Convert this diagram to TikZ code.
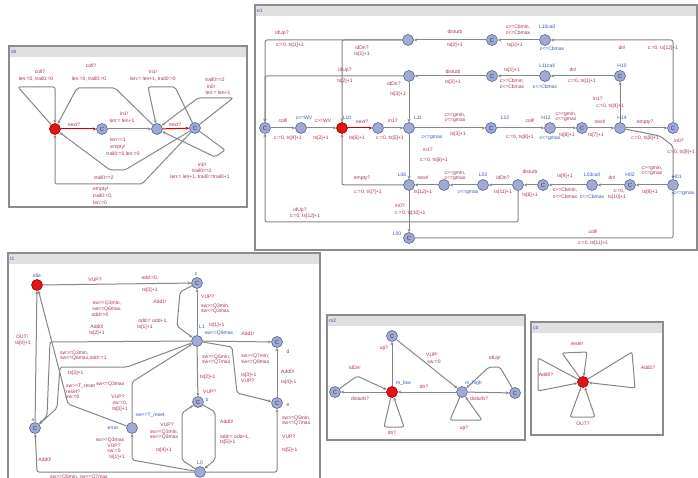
\documentclass[tikz,border=0pt]{standalone}
\usepackage{fontspec}
\setmainfont{Liberation Sans}
\usetikzlibrary{arrows.meta}
\definecolor{labcol}{RGB}{168,48,88}
\definecolor{namecol}{RGB}{50,90,180}
\definecolor{edgecol}{RGB}{135,135,135}
\definecolor{locfill}{RGB}{160,170,212}
\definecolor{locline}{RGB}{90,100,145}
\definecolor{ctext}{RGB}{50,60,110}
\definecolor{initfill}{RGB}{228,20,20}
\definecolor{framecol}{RGB}{140,140,140}
\definecolor{barcol}{RGB}{224,224,224}
\newcounter{lbn}
\newcommand\lb[3][]{\stepcounter{lbn}\node[lab,#1] (lb\arabic{lbn}) at (#2) {#3};}
% template frame: x1, y1, x2, y2, name
\newcommand\panel[5]{%
  \fill[white] (#1,#2) rectangle (#3,#4);
  \fill[barcol] (#1,#2) rectangle (#3,#2+11);
  \draw[framecol, line width=1.2pt] (#1,#2) rectangle (#3,#4);
  \node[nm, anchor=west] (title#5) at (#1+2,#2+5.5) {#5};
}
\tikzset{
  lab/.style={text=labcol, font=\fontsize{5}{5.5}\selectfont, inner sep=0pt, align=center},
  nm/.style={lab, text=namecol},
  loc/.style={circle, minimum size=11pt, inner sep=0pt, fill=locfill, draw=locline,
    line width=0.6pt, font=\fontsize{6}{6}\selectfont, text=ctext},
  com/.style={loc},
  initloc/.style={loc, fill=initfill, draw=red!60!black},
  tr/.style={draw=edgecol, line width=1pt, rounded corners=2pt,
    -{Stealth[length=3.4pt,width=3pt]}},
  trred/.style={tr, draw=red!80!black},
}
\begin{document}
\begin{tikzpicture}[x=1pt,y=-1pt]
\useasboundingbox (0,0) rectangle (698,478);
\fill[white] (0,0) rectangle (698,478);

% ================= sb =================
\panel{9}{46}{247}{207}{sb}
\node[initloc] (s0) at (55,129) {};
\node[com] (s1) at (102,129) {C};
\node[loc] (s2) at (157,129) {};
\node[com] (s3) at (195,128) {C};
\draw[tr] (s0) -- (18,87) -- (55,87) -- (s0);
\draw[tr] (s2) -- (115,88) -- (77,88) -- (s0);
\draw[trred] (s0) -- (s1);
\draw[tr] (s1) -- (s2);
\draw[trred] (s2) -- (s3);
\draw[tr] (s3) -- (175,87) -- (148,87) -- (s2);
\draw[tr] (s3) -- (233,98) -- (198,98) -- (s2);
\draw[tr] (s3) -- (225,150) -- (215,157) -- (s2);
\draw[tr] (s3) -- (125,170) -- (110,170) -- (s0);
\draw[tr] (s3) -- (142,184) -- (55,184) -- (s0);
\lb{40,72}{coll?}
\lb{36,79}{len:=0, trail0:=0}
\lb{91,66}{coll?}
\lb{89,79}{len:=0, trail0:=0}
\lb{74,125}{next?}
\lb{124,114}{in1!}
\lb{122,121}{len:= len+1}
\lb{153,72}{in1!}
\lb{153,79}{len:= len+1, trail0:=0}
\lb{175,125}{next?}
\lb{215,80}{trail0==2}
\lb{211,87}{in0!}
\lb{218,93}{len:= len+1}
\lb{202,165}{in0!}
\lb{202,171}{trail0==2}
\lb{200,177}{len:= len+1, trail0:=trail0+1}
\lb{118,140}{len==1}
\lb{118,147}{empty!}
\lb{123,154}{trail0:=0,len:=0}
\lb{104,178}{trail0==2}
\lb[anchor=west]{93,189}{empty!}
\lb[anchor=west]{93,196}{trail0:=0,}
\lb[anchor=west]{93,203}{len:=0}

% ================= e1 =================
\panel{255}{5}{697}{250}{e1}
\node[loc] (t1n) at (408,40) {};
\node[com] (t2C) at (492,40) {C};
\node[loc] (t3) at (545,40) {};
\node[loc] (r2a) at (409,76) {};
\node[com] (r2C) at (492,76) {C};
\node[loc] (r2b) at (545,76) {};
\node[com] (H10) at (620,76) {C};
\node[com] (mC0) at (265,128) {C};
\node[loc] (m1) at (301,128) {};
\node[initloc] (mI) at (342,128) {};
\node[loc] (m3) at (378,128) {};
\node[loc] (L11) at (409,128) {};
\node[com] (L12) at (491,128) {C};
\node[loc] (m6) at (550,128) {};
\node[com] (m7) at (582,128) {C};
\node[loc] (H14) at (620,128) {};
\node[com] (m9) at (673,128) {C};
\node[loc] (L06) at (409,185) {};
\node[loc] (n1) at (444,185) {};
\node[loc] (L03) at (483,185) {};
\node[loc] (n3) at (518,185) {};
\node[com] (n4) at (543,185) {C};
\node[loc] (L03c) at (592,185) {};
\node[com] (H02) at (630,185) {C};
\node[loc] (H01) at (673,185) {};
\node[com] (L00) at (409,238) {C};

\draw[tr] (m9) -- (673,40) -- (t3);
\draw[tr] (t3) -- (t2C);
\draw[tr] (t2C) -- (t1n);
\draw[tr] (t1n) -- (265,40) -- (mC0);
\draw[tr] (t1n) -- (342,40) -- (mI);
\draw[tr] (H10) -- (r2b);
\draw[tr] (r2b) -- (r2C);
\draw[tr] (r2C) -- (r2a);
\draw[tr] (r2a) -- (L11);
\draw[tr] (r2a) -- (265,76) -- (mC0);
\draw[tr] (H14) -- (H10);
\draw[tr] (mC0) -- (m1);
\draw[tr] (m1) -- (mI);
\draw[trred] (mI) -- (m3);
\draw[tr] (m3) -- (L11);
\draw[tr] (L11) -- (L12);
\draw[tr] (L12) -- (m6);
\draw[tr] (m6) -- (m7);
\draw[tr] (m7) -- (H14);
\draw[tr] (H14) -- (m9);
\draw[tr] (H14) -- (660,136) -- (673,146) -- (H01);
\draw[tr] (H01) -- (H02);
\draw[tr] (H02) -- (L03c);
\draw[tr] (L03c) -- (n4);
\draw[tr] (n4) -- (n3);
\draw[tr] (n3) -- (L03);
\draw[tr] (n3) -- (518,222) -- (265,222) -- (mC0);
\draw[tr] (L03) -- (n1);
\draw[tr] (n1) -- (L06);
\draw[tr] (L06) -- (342,185) -- (mI);
\draw[tr] (L11) -- (L06);
\draw[tr] (L06) -- (L00);
\draw[tr] (L00) -- (673,238) -- (H01);

% location names and invariants
\lb[nm]{547,27}{L10call}
\lb[nm]{552,49}{c<=Cbmax}
\lb[nm]{547,66}{L11call}
\lb[nm]{545,87}{c<=Cbmax}
\lb[nm]{622,66}{H10}
\lb[nm]{347,118}{L10}
\lb[nm]{304,118}{c<=WV}
\lb[nm]{418,118}{L11}
\lb[nm]{505,118}{L12}
\lb[nm]{546,118}{H12}
\lb[nm]{622,118}{H14}
\lb[nm]{432,138}{c<=gmax}
\lb[nm]{550,139}{c<=gmax}
\lb[nm]{402,175}{L06}
\lb[nm]{483,175}{L03}
\lb[nm]{468,193}{c<=gmax}
\lb[nm]{592,175}{L03call}
\lb[nm]{592,197}{c<=Cbmax}
\lb[nm]{630,175}{H02}
\lb[nm]{677,177}{H01}
\lb[nm]{684,194}{c<=gmax}
\lb[nm]{397,234}{L00}
% edge labels
\lb{622,48}{dn!}
\lb{663,48}{c:=0, ts[12]+1}
\lb{518,27}{c>=Cbmin,}
\lb{518,33}{c<=Cbmax}
\lb{515,45}{ts[1]+1}
\lb{455,32}{disturb}
\lb{455,45}{ts[2]+1}
\lb{282,33}{idUp?}
\lb{290,45}{c:=0, ts[1]+1}
\lb{362,48}{idDn?}
\lb{362,54}{ts[1]+1}
\lb{512,70}{ts[1]+1}
\lb{512,81}{c>=Cbmin,}
\lb{512,87}{c<=Cbmax}
\lb{573,70}{dn!}
\lb{582,81}{c:=0, ts[1]+1}
\lb{453,72}{disturb}
\lb{453,82}{ts[2]+1}
\lb{394,84}{idDn?}
\lb{398,94}{ts[3]+1}
\lb{345,70}{idUp?}
\lb{345,81}{ts[2]+1}
\lb{598,99}{in1?}
\lb{610,106}{c:=0, ts[4]+1}
\lb{283,121}{coll!}
\lb{288,138}{c:=0, ts[4]+1}
\lb{323,121}{c>=WV}
\lb{321,138}{ts[2]+1}
\lb{362,122}{next?}
\lb{357,138}{ts[6]+1}
\lb{393,121}{in1?}
\lb{390,138}{c:=0, ts[5]+1}
\lb{455,115}{c>=gmin,}
\lb{455,121}{c<=gmax}
\lb{458,134}{ts[3]+1}
\lb{530,121}{coll!}
\lb{520,137}{c:=0, ts[8]+1}
\lb{566,114}{c>=gmin,}
\lb{566,120}{c<=gmax}
\lb{567,135}{ts[8]+1}
\lb{600,122}{next!}
\lb{596,135}{ts[7]+1}
\lb{645,122}{empty?}
\lb{645,138}{c:=0, ts[8]+1}
\lb{679,141}{in0?}
\lb[anchor=east]{695,152}{c:=0, ts[9]+1}
\lb{652,168}{c>=gmin,}
\lb{652,174}{c<=gmax}
\lb{650,192}{ts[9]+1}
\lb{612,178}{dn!}
\lb{619,191}{c:=0,}
\lb{617,197}{ts[10]+1}
\lb{565,176}{ts[9]+1}
\lb{565,190}{c>=Cbmin,}
\lb{565,197}{c<=Cbmax}
\lb{530,172}{disturb}
\lb{530,195}{ts[8]+1}
\lb{503,178}{idDn?}
\lb{503,192}{ts[11]+1}
\lb{300,210}{idUp?}
\lb{305,216}{c:=0, ts[12]+1}
\lb{455,173}{c>=gmin,}
\lb{455,179}{c<=gmax}
\lb{423,178}{next!}
\lb{423,192}{ts[12]+1}
\lb{362,178}{empty?}
\lb{368,192}{c:=0, ts[7]+1}
\lb{428,150}{in1?}
\lb{434,160}{c:=0, ts[6]+1}
\lb[anchor=west]{395,206}{in0?}
\lb[anchor=west]{395,213}{c:=0, ts[10]+1}
\lb{593,232}{coll!}
\lb{593,243}{c:=0, ts[11]+1}

% ================= t1 =================
\panel{8}{253}{320}{490}{t1}
\node[initloc] (idle) at (37,285) {};
\node[com] (cC) at (197,283) {C};
\node[loc] (L1) at (197,341) {};
\node[com] (d) at (277,342) {C};
\node[com] (e) at (277,403) {C};
\node[com] (b) at (198,402) {C};
\node[loc] (error) at (132,428) {};
\node[loc] (L0) at (200,472) {};
\node[com] (a) at (35,428) {C};

\draw[tr] (idle) -- (cC);
\draw[tr] (cC) -- (180,292) -- (177,326) -- (L1);
\draw[tr] (L1) -- (cC);
\draw[tr] (L1) -- (d);
\draw[tr] (e) -- (d);
\draw[tr] (L1) -- (232,347) -- (237,393) -- (e);
\draw[tr] (L1) -- (b);
\draw[tr] (L0) -- (182,460) -- (182,413) -- (b);
\draw[tr] (b) -- (215,412) -- (215,460) -- (L0);
\draw[tr] (L0) -- (277,472) -- (e);
\draw[tr] (error) -- (132,382) -- (L1);
\draw[tr] (L0) -- (132,460) -- (error);
\draw[tr] (error) -- (68,404) -- (idle);
\draw[tr] (L1) -- (50,342) -- (47,416) -- (a);
\draw[tr] (L1) -- (127,367) -- (60,367) -- (57,408) -- (a);
\draw[tr] (a) -- (idle);
\draw[tr] (L0) -- (37,472) -- (a);

\lb[nm]{37,276}{idle}
\lb[nm]{196,274}{c}
\lb[nm]{202,327}{L1}
\lb[nm]{219,333}{sw<=Q9max}
\lb[nm]{288,352}{d}
\lb[nm]{288,405}{e}
\lb[nm]{207,400}{b}
\lb[nm]{113,428}{error}
\lb[nm]{200,463}{L0}
\lb[nm]{33,420}{a}
\lb[nm]{150,415}{sw<=T\_reset}

\lb{95,280}{VUP?}
\lb{150,278}{odd:=0,}
\lb{150,290}{ts[0]+1}
\lb{160,302}{Add1!}
\lb{153,321}{odd:= odd+1,}
\lb{145,327}{ts[1]+1}
\lb[anchor=west]{201,297}{VUP?}
\lb[anchor=west]{201,306}{sw>=Q3min,}
\lb[anchor=west]{201,311}{sw<=Q3max}
\lb[anchor=west]{209,325}{ts[1]+1}
\lb{248,334}{Add1!}
\lb[anchor=west]{281,372}{Add0!}
\lb[anchor=west]{281,382}{ts[4]+1}
\lb[anchor=west]{241,356}{sw>=Q7min,}
\lb[anchor=west]{241,362}{sw<=Q9max}
\lb[anchor=west]{241,375}{ts[3]+1}
\lb[anchor=west]{241,381}{VUP?}
\lb[anchor=west]{202,357}{sw>=Q5min,}
\lb[anchor=west]{202,362}{sw<=Q7max}
\lb[anchor=west]{200,377}{ts[2]+1}
\lb[anchor=west]{203,392}{VUP?}
\lb{167,425}{VUP?}
\lb{164,432}{sw>=Q3min,}
\lb{164,437}{sw<=Q5max}
\lb{164,450}{ts[4]+1}
\lb[anchor=west]{220,422}{Add0!}
\lb[anchor=west]{220,437}{odd:= odd+1,}
\lb[anchor=west]{220,442}{ts[5]+1}
\lb[anchor=west]{282,418}{sw>=Q5min,}
\lb[anchor=west]{282,423}{sw<=Q7max}
\lb[anchor=west]{282,437}{VUP?}
\lb[anchor=west]{282,450}{ts[5]+1}
\lb{118,397}{VUP?}
\lb{120,403}{sw:=0,}
\lb{120,409}{ts[0]+1}
\lb{110,440}{sw>=Q3max}
\lb{114,446}{VUP?}
\lb{114,451}{sw:=0}
\lb{117,457}{ts[1]+1}
\lb[anchor=west]{66,386}{sw>=T\_reset}
\lb[anchor=west]{96,384}{sw<=Q3max}
\lb[anchor=west]{66,392}{reset?}
\lb[anchor=west]{66,397}{sw:=0}
\lb{107,303}{sw>=Q3min,}
\lb{107,309}{sw<=Q6max,}
\lb{100,315}{odd==0}
\lb{97,327}{Add0!}
\lb{97,333}{ts[2]+1}
\lb[anchor=west]{60,353}{sw>=Q3min,}
\lb[anchor=west]{60,358}{sw<=Q6max,odd==1}
\lb[anchor=west]{68,373}{ts[3]+1}
\lb{22,337}{OUT!}
\lb{23,343}{ts[0]+1}
\lb{45,460}{Add0!}
\lb[anchor=west]{50,477}{sw>=Q5min, sw<=Q7max}

% ================= m2 =================
\panel{327}{315}{525}{440}{m2}
\node[com] (mt) at (392,336) {C};
\node[com] (ml) at (335,392) {C};
\node[initloc] (mlow) at (392,392) {};
\node[loc] (mhigh) at (462,392) {};
\node[com] (mr) at (515,393) {C};
\draw[tr] (mlow) -- (mt);
\draw[tr] (mt) -- (mhigh);
\draw[tr] (mhigh) -- (mlow);
\draw[tr] (mlow) -- (ml);
\draw[tr] (ml) -- (357,376) -- (mlow);
\draw[tr] (mlow) -- (384,427) -- (404,427) -- (mlow);
\draw[tr] (mhigh) -- (mr);
\draw[tr] (mr) -- (500,367) -- (489,367) -- (mhigh);
\draw[tr] (mhigh) -- (450,420) -- (482,420) -- (mhigh);
\lb[nm,anchor=west]{396,383}{m\_low}
\lb[nm,anchor=west]{465,383}{m\_high}
\lb{384,348}{up?}
\lb{432,355}{VUP!}
\lb{434,362}{sw:=0}
\lb{424,387}{dn?}
\lb{360,399}{disturb?}
\lb{355,368}{idDn!}
\lb{392,433}{dn?}
\lb{479,399}{disturb?}
\lb{495,358}{idUp!}
\lb{464,428}{up?}

% ================= cb =================
\panel{531}{322}{663}{435}{cb}
\node[initloc] (cbI) at (583,382) {};
\draw[tr] (cbI) -- (562,353) -- (587,352) -- (cbI);
\draw[tr] (cbI) -- (538,358) -- (538,391) -- (cbI);
\draw[tr] (cbI) -- (632,352) -- (635,388) -- (cbI);
\draw[tr] (cbI) -- (570,417) -- (595,417) -- (cbI);
\lb{577,344}{reset!}
\lb{546,375}{Add0?}
\lb{648,368}{Add1?}
\lb{583,424}{OUT?}
\end{tikzpicture}
\end{document}
